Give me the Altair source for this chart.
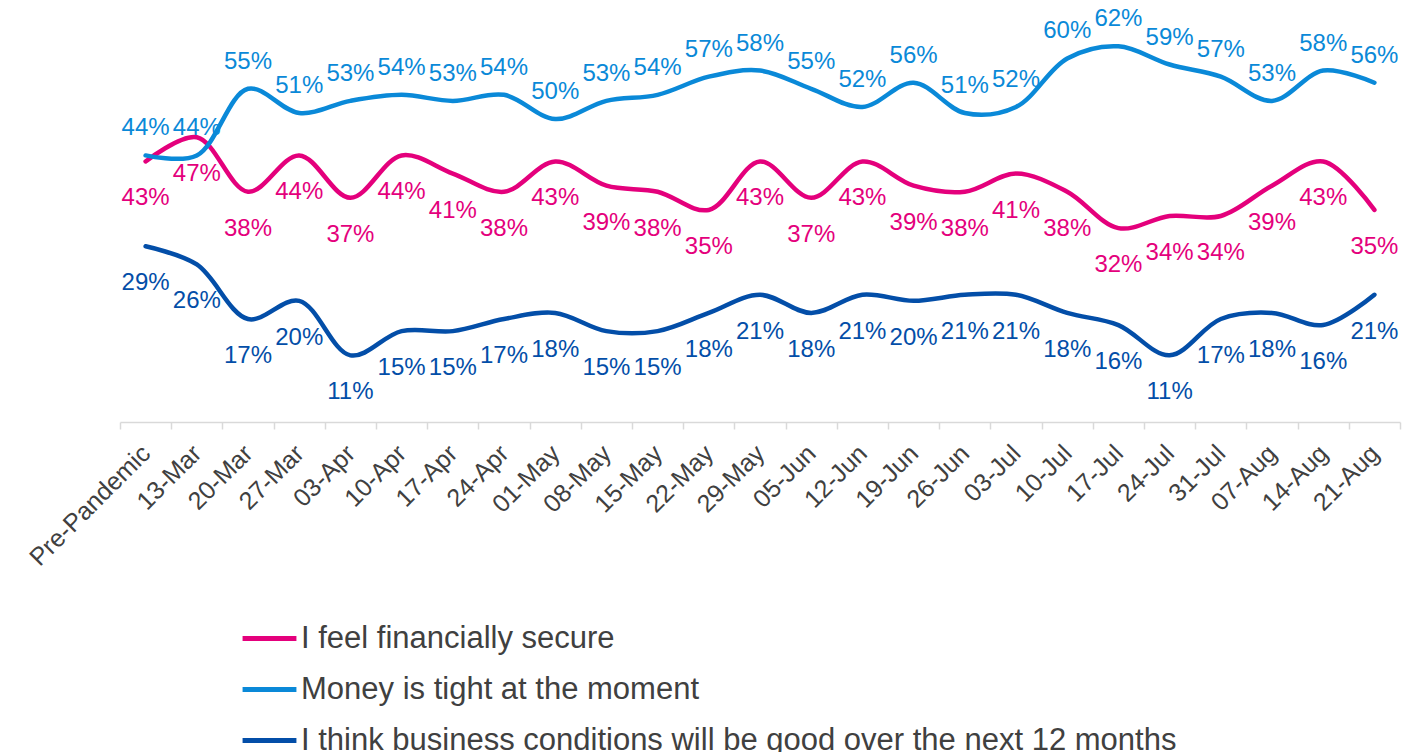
import altair as alt
import pandas as pd

categories = ["Pre-Pandemic", "13-Mar", "20-Mar", "27-Mar", "03-Apr", "10-Apr", "17-Apr",
              "24-Apr", "01-May", "08-May", "15-May", "22-May", "29-May", "05-Jun",
              "12-Jun", "19-Jun", "26-Jun", "03-Jul", "10-Jul", "17-Jul", "24-Jul",
              "31-Jul", "07-Aug", "14-Aug", "21-Aug"]

secure = [43, 47, 38, 44, 37, 44, 41, 38, 43, 39, 38, 35, 43, 37, 43, 39, 38, 41, 38, 32, 34, 34, 39, 43, 35]
tight = [44, 44, 55, 51, 53, 54, 53, 54, 50, 53, 54, 57, 58, 55, 52, 56, 51, 52, 60, 62, 59, 57, 53, 58, 56]
business = [29, 26, 17, 20, 11, 15, 15, 17, 18, 15, 15, 18, 21, 18, 21, 20, 21, 21, 18, 16, 11, 17, 18, 16, 21]

series_names = ["I feel financially secure",
                "Money is tight at the moment",
                "I think business conditions will be good over the next 12 months"]
series_colors = ["#E4007C", "#0A89D8", "#034EA8"]

rows = []
for name, vals in zip(series_names, [secure, tight, business]):
    for c, v in zip(categories, vals):
        rows.append({"cat": c, "series": name, "value": v})
df = pd.DataFrame(rows)

FONT = "Liberation Sans"

x_enc = alt.X("cat:N", sort=categories,
              scale=alt.Scale(paddingInner=0, paddingOuter=0),
              axis=alt.Axis(title=None, labelAngle=-45, labelAlign="right",
                            labelBaseline="middle", labelFontSize=25, labelFont=FONT,
                            labelColor="#404040", labelPadding=20,
                            tickBand="extent", tickSize=7, tickColor="#D9D9D9",
                            domainColor="#D9D9D9", domainWidth=1.5, tickWidth=1.5,
                            grid=False))
y_enc = alt.Y("value:Q", scale=alt.Scale(domain=[0, 68], nice=False), axis=None)
color_enc = alt.Color("series:N",
                      scale=alt.Scale(domain=series_names, range=series_colors),
                      legend=alt.Legend(orient="none", legendX=120, legendY=599,
                                        direction="vertical", title=None,
                                        symbolType="stroke", symbolSize=2900,
                                        symbolStrokeWidth=5, labelFontSize=31,
                                        labelFont=FONT, labelColor="#404040",
                                        labelOffset=2, labelLimit=1300,
                                        rowPadding=6))

base = alt.Chart(df).encode(x=x_enc, y=y_enc, color=color_enc)

lines = base.mark_line(interpolate="catmull-rom", strokeWidth=4.5, strokeCap="round")

labeled = base.transform_calculate(label="datum.value + '%'")

txt_tight = labeled.transform_filter(alt.datum.series == series_names[1]).mark_text(
    dy=-27, fontSize=24, font=FONT).encode(text="label:N")
txt_secure = labeled.transform_filter(alt.datum.series == series_names[0]).mark_text(
    dy=37, fontSize=24, font=FONT).encode(text="label:N")
txt_bus = labeled.transform_filter(alt.datum.series == series_names[2]).mark_text(
    dy=37, fontSize=24, font=FONT).encode(text="label:N")

chart = alt.layer(lines, txt_secure, txt_tight, txt_bus).properties(
    width=1280, height=412,
    autosize=alt.AutoSizeParams(type="none"),
    padding={"left": 112, "top": 2, "right": 20, "bottom": 330},
).configure_view(stroke=None)

chart.save("out.html", embed_options={"renderer": "svg", "actions": False})
